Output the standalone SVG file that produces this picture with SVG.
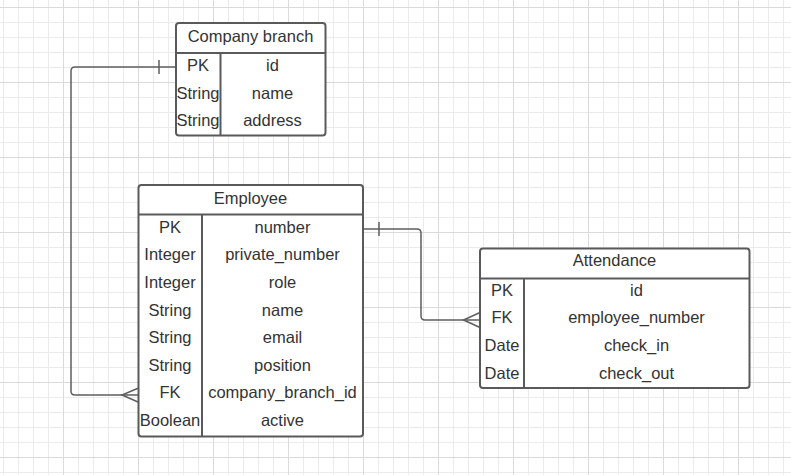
<svg xmlns="http://www.w3.org/2000/svg" width="791" height="475" viewBox="0 0 791 475">
<defs>
<pattern id="minor" x="3" y="7" width="15" height="15" patternUnits="userSpaceOnUse">
<rect x="0" y="0" width="1" height="15" fill="#ebebeb"/>
<rect x="0" y="0" width="15" height="1" fill="#ebebeb"/>
</pattern>
<pattern id="major" x="-12" y="7" width="75" height="75" patternUnits="userSpaceOnUse">
<rect x="0" y="0" width="1" height="75" fill="#dadada"/>
<rect x="0" y="0" width="75" height="1" fill="#dadada"/>
</pattern>
</defs>
<style>
.box{fill:#ffffff;stroke:#5a5a5a;stroke-width:2}
.sep{stroke:#5a5a5a;stroke-width:2;fill:none}
.t{font-family:"Liberation Sans",Arial,sans-serif;font-size:16.5px;fill:#333333;text-anchor:middle}
.c{fill:none;stroke:#5e5e5e;stroke-width:1.5}
</style>
<rect width="791" height="475" fill="#ffffff"/>
<rect width="791" height="475" fill="url(#minor)"/>
<rect width="791" height="475" fill="url(#major)"/>

<g id="connectors">
<path class="c" d="M176,67 H75 Q71,67 71,71 V391 Q71,395 75,395 H138"/>
<path class="c" d="M159,60 V74"/>
<path class="c" d="M138,388.3 L122,395 L138,402"/>
<path class="c" d="M363,229 H417 Q421,229 421,233 V316 Q421,320 425,320 H480"/>
<path class="c" d="M379,222 V236"/>
<path class="c" d="M480,312.5 L463.5,320 L480,327.5"/>
</g>

<g id="company-branch">
<rect class="box" x="176" y="23" width="149.5" height="112.5" rx="3"/>
<path class="sep" d="M176,53 H325.5 M220.5,53 V135.5"/>
<text class="t" x="250.5" y="42">Company branch</text>
<text class="t" x="198" y="71">PK</text>
<text class="t" x="272.5" y="71">id</text>
<text class="t" x="198" y="98.5">String</text>
<text class="t" x="272.5" y="98.5">name</text>
<text class="t" x="198" y="126">String</text>
<text class="t" x="272.5" y="126">address</text>
</g>

<g id="employee">
<rect class="box" x="138.5" y="185" width="224.5" height="251.5" rx="3"/>
<path class="sep" d="M138.5,214.5 H363 M202,214.5 V436.5"/>
<text class="t" x="250.5" y="203.5">Employee</text>
<text class="t" x="170" y="232.7">PK</text>
<text class="t" x="282.5" y="232.7">number</text>
<text class="t" x="170" y="260.3">Integer</text>
<text class="t" x="282.5" y="260.3">private_number</text>
<text class="t" x="170" y="287.9">Integer</text>
<text class="t" x="282.5" y="287.9">role</text>
<text class="t" x="170" y="315.5">String</text>
<text class="t" x="282.5" y="315.5">name</text>
<text class="t" x="170" y="343.1">String</text>
<text class="t" x="282.5" y="343.1">email</text>
<text class="t" x="170" y="370.7">String</text>
<text class="t" x="282.5" y="370.7">position</text>
<text class="t" x="170" y="398.3">FK</text>
<text class="t" x="282.5" y="398.3">company_branch_id</text>
<text class="t" x="170" y="425.9">Boolean</text>
<text class="t" x="282.5" y="425.9">active</text>
</g>

<g id="attendance">
<rect class="box" x="480" y="248.5" width="269.5" height="139.5" rx="3"/>
<path class="sep" d="M480,278.5 H749.5 M524,278.5 V388"/>
<text class="t" x="614.5" y="266">Attendance</text>
<text class="t" x="502" y="295.7">PK</text>
<text class="t" x="636.5" y="295.7">id</text>
<text class="t" x="502" y="323.3">FK</text>
<text class="t" x="636.5" y="323.3">employee_number</text>
<text class="t" x="502" y="350.9">Date</text>
<text class="t" x="636.5" y="350.9">check_in</text>
<text class="t" x="502" y="378.5">Date</text>
<text class="t" x="636.5" y="378.5">check_out</text>
</g>
</svg>
